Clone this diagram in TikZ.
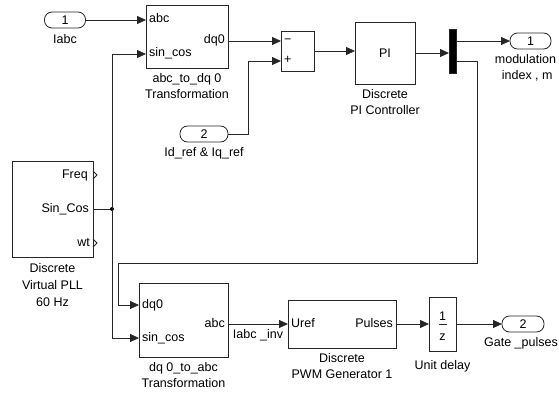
\documentclass[tikz,border=0pt]{standalone}
\usepackage{fontspec}
\setmainfont{Liberation Sans}
\usetikzlibrary{arrows.meta, positioning, calc}

\begin{document}
\begin{tikzpicture}[
    x=1pt, y=-1pt,
    font=\fontsize{12.5}{16}\selectfont,
    block/.style  ={draw=black!85, line width=0.8pt, inner sep=0pt, outer sep=0pt},
    port/.style   ={draw=black!85, rounded corners=7.5pt, line width=0.8pt, minimum width=41pt,
                    minimum height=16pt, inner sep=0pt, outer sep=0pt},
    plab/.style   ={inner sep=0pt, text height=8.5pt, text depth=2.5pt},
    caption/.style={align=center, inner sep=0pt},
    arrow/.style  ={-{Triangle[length=9pt, width=8pt]}, line width=0.8pt, draw=black!85},
    wire/.style   ={line width=0.8pt, draw=black!85},
]
\useasboundingbox (0,0) rectangle (559,393);

% ── Inputs ─────────────────────────────────────────────────────────────
\node[port] (in1) at (65,20) {1};
\node[caption, below=6pt of in1] {Iabc};
\node[port, minimum width=48pt] (in2) at (204,134) {2};
\node[caption, below=5pt of in2] {Id\_ref \& Iq\_ref};

% ── abc to dq0 ─────────────────────────────────────────────────────────
\node[block, minimum width=82pt, minimum height=63pt] (abcdq) at (187,37) {};
\node[plab, anchor=west] (pabcin) at (149,20) {abc};
\node[plab, anchor=west] (psc1)   at (149,54) {sin\_cos};
\node[plab, anchor=east] (pdq)    at (225,41) {dq0};
\node[caption, below=5pt of abcdq] {abc\_to\_dq 0\\Transformation};

% ── Sum and PI ─────────────────────────────────────────────────────────
\node[block, minimum width=33pt, minimum height=40pt] (sum) at (297.5,51) {};
\node[plab, anchor=west] (pminus) at (284,41) {−};
\node[plab, anchor=west] (pplus)  at (284,61) {+};
\node[block, minimum width=60pt, minimum height=62pt] (pi) at (385,53) {PI};
\node[caption, below=5pt of pi] {Discrete\\PI Controller};

% ── Demux and output m ─────────────────────────────────────────────────
\node[block, fill=black, minimum width=7pt, minimum height=44pt] (demux) at (452.5,51) {};
\node[port] (out1) at (530.5,41) {1};
\node[caption, below=5pt of out1, xshift=-5pt] {modulation\\\ index , m};

% ── PLL ────────────────────────────────────────────────────────────────
\node[block, minimum width=81pt, minimum height=96pt] (pll) at (52.5,209) {};
\node[plab, anchor=east] (pfreq) at (88,175) {Freq};
\node[plab, anchor=east] (psc)   at (89,209) {Sin\_Cos};
\node[plab, anchor=east] (pwt)   at (90,243) {wt};
\node[caption, below=6pt of pll, font=\fontsize{12.5}{17}\selectfont] {Discrete\\Virtual PLL\\60 Hz};

% ── dq0 to abc ─────────────────────────────────────────────────────────
\node[block, minimum width=89pt, minimum height=74pt] (dqabc) at (183.5,320) {};
\node[plab, anchor=west] (pdq0)  at (142,305) {dq0};
\node[plab, anchor=west] (psc2)  at (142,338) {sin\_cos};
\node[plab, anchor=east] (pabc)  at (225,324) {abc};
\node[caption, below=5pt of dqabc] {dq 0\_to\_abc\\Transformation};

% ── PWM, delay, output pulses ──────────────────────────────────────────
\node[block, minimum width=108pt, minimum height=48pt] (pwm) at (342,324) {};
\node[plab, anchor=west] (puref)  at (291,324) {Uref};
\node[plab, anchor=east] (ppulse) at (393,324) {Pulses};
\node[caption, below=5pt of pwm] {Discrete\\PWM Generator 1};
\node[block, minimum width=27pt, minimum height=54pt] (delay) at (442.5,324) {};
\node[inner sep=0pt] (one) at ($(delay.center)+(0,-8)$) {1};
\node[inner sep=0pt] (zz)  at ($(delay.center)+(0,13)$) {z};
\node[caption, below=9pt of delay] {Unit delay};
\node[port, minimum width=42pt] (out2) at (523,324) {2};
\node[caption, below=5pt of out2, xshift=-2pt] {Gate \_pulses};

% ── Wires ──────────────────────────────────────────────────────────────
\coordinate (jn)  at (112,209);
\coordinate (fbk) at (118,263);
\draw[arrow] (in1.east) -- (in1 -| abcdq.west);
\draw[arrow] (pdq -| abcdq.east) -- (pminus -| sum.west);
\draw[arrow] (in2.east) -- ++(20,0) |- (pplus -| sum.west);
\draw[arrow] (sum.east) -- (sum.east -| pi.west);
\draw[arrow] (pi.east) -- (pi.east -| demux.west);
\draw[arrow] (demux.east |- out1) -- (out1.west);
\draw[arrow] (demux.east |- pplus) -- ++(21,0) |- (fbk) |- (pdq0 -| dqabc.west);
\draw[wire]  (psc -| pll.east) -- (jn);
\fill[black] (jn) circle (2pt);
\draw[arrow] (jn) |- (psc1 -| abcdq.west);
\draw[arrow] (jn) |- (psc2 -| dqabc.west);
\draw[arrow] (pabc -| dqabc.east) -- node[caption, below=5pt] {Iabc \_inv} (puref -| pwm.west);
\draw[arrow] (pwm.east) -- (delay.west);
\draw[arrow] (delay.east) -- (out2.west);
\draw[wire]  ($(delay.center)+(-4,0)$) -- ++(8,0);

% open outputs of the PLL
\draw[wire] ($(pll.east |- pfreq)+(0,-4)$) -- ++(4,4) -- ++(-4,4);
\draw[wire] ($(pll.east |- pwt)+(0,-4)$) -- ++(4,4) -- ++(-4,4);

\end{tikzpicture}
\end{document}
